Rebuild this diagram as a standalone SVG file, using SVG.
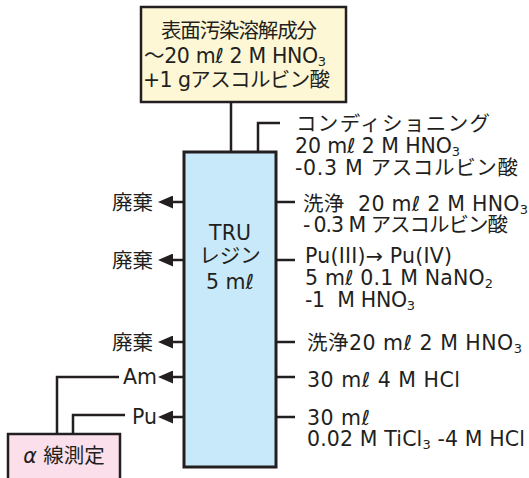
<svg xmlns="http://www.w3.org/2000/svg" width="529" height="478" viewBox="0 0 529 478">
<defs>
<style>
text{font-family:'DejaVu Sans','Noto Sans CJK JP',sans-serif;font-size:20.5px;fill:#231f20}
.c{text-anchor:middle}
.e{text-anchor:end}
.ln{stroke:#231f20;stroke-width:2.5;fill:none}
.sub{font-size:13px}
</style>
<marker id="ah" viewBox="0 0 15 13" refX="0" refY="6.5" markerWidth="15" markerHeight="13" markerUnits="userSpaceOnUse" orient="auto">
<path d="M0,0 L15,6.5 L0,13 z" fill="#231f20"/>
</marker>
</defs>
<rect width="529" height="478" fill="#ffffff"/>
<g id="connectors">
<line class="ln" x1="231" y1="102" x2="231" y2="152"/>
<polyline class="ln" points="258,152 258,123 280,123"/>
<line class="ln" x1="276" y1="202" x2="295" y2="202"/>
<line class="ln" x1="276" y1="260" x2="295" y2="260"/>
<line class="ln" x1="276" y1="342" x2="295" y2="342"/>
<line class="ln" x1="276" y1="377" x2="295" y2="377"/>
<line class="ln" x1="276" y1="417" x2="295" y2="417"/>
<line class="ln" x1="184" y1="202" x2="173" y2="202" marker-end="url(#ah)"/>
<line class="ln" x1="184" y1="260" x2="173" y2="260" marker-end="url(#ah)"/>
<line class="ln" x1="184" y1="342" x2="173" y2="342" marker-end="url(#ah)"/>
<line class="ln" x1="184" y1="377" x2="173" y2="377" marker-end="url(#ah)"/>
<line class="ln" x1="184" y1="417" x2="173" y2="417" marker-end="url(#ah)"/>
<polyline class="ln" points="119,377 57,377 57,434"/>
<polyline class="ln" points="125,415 73,415 73,434"/>
</g>
<g id="source">
<rect x="141" y="7" width="205" height="95" fill="#fdf7d6" stroke="#231f20" stroke-width="2.5"/>
<text x="161" y="38" textLength="156" lengthAdjust="spacing">表面汚染溶解成分</text>
<text x="144" y="63" textLength="182" lengthAdjust="spacing">〜20 mℓ 2 M HNO<tspan class="sub" dy="3">3</tspan></text>
<text x="143" y="87" textLength="187" lengthAdjust="spacing">+1 gアスコルビン酸</text>
</g>
<g id="column">
<rect x="184" y="152" width="92" height="315" fill="#c8e9f9" stroke="#231f20" stroke-width="3"/>
<text class="c" x="230" y="240">TRU</text>
<text class="c" x="230" y="263">レジン</text>
<text class="c" x="230" y="289">5 mℓ</text>
</g>
<g id="step-conditioning">
<text x="296" y="131" textLength="194" lengthAdjust="spacing">コンディショニング</text>
<text x="295" y="153" textLength="165" lengthAdjust="spacing">20 mℓ 2 M HNO<tspan class="sub" dy="3">3</tspan></text>
<text x="295" y="175" textLength="223" lengthAdjust="spacing">-0.3 M アスコルビン酸</text>
</g>
<g id="step-wash1">
<text x="303" y="211" textLength="225" lengthAdjust="spacing" xml:space="preserve">洗浄  20 mℓ 2 M HNO<tspan class="sub" dy="3">3</tspan></text>
<text x="303" y="232" textLength="205" lengthAdjust="spacing">-<tspan dx="4">0.3 M アスコルビン酸</tspan></text>
</g>
<g id="step-redox">
<text x="305" y="263" textLength="147" lengthAdjust="spacing">Pu(III)→ Pu(IV)</text>
<text x="305" y="285" textLength="188" lengthAdjust="spacing">5 mℓ 0.1 M NaNO<tspan class="sub" dy="3">2</tspan></text>
<text x="305" y="307" textLength="110" lengthAdjust="spacing" xml:space="preserve">-1  M HNO<tspan class="sub" dy="3">3</tspan></text>
</g>
<g id="step-wash2">
<text x="307" y="350" textLength="215" lengthAdjust="spacing">洗浄20 mℓ 2 M HNO<tspan class="sub" dy="3">3</tspan></text>
</g>
<g id="step-am">
<text x="307" y="387" textLength="153" lengthAdjust="spacing">30 mℓ 4 M HCl</text>
</g>
<g id="step-pu">
<text x="307" y="425" textLength="63" lengthAdjust="spacing">30 mℓ</text>
<text x="307" y="446" textLength="218" lengthAdjust="spacing">0.02 M TiCl<tspan class="sub" dy="3">3</tspan><tspan dy="-3"> -4 M HCl</tspan></text>
</g>
<g id="waste1"><text class="e" x="153" y="210">廃棄</text></g>
<g id="waste2"><text class="e" x="153" y="268">廃棄</text></g>
<g id="waste3"><text class="e" x="153" y="350">廃棄</text></g>
<g id="am"><text class="e" x="157" y="384">Am</text></g>
<g id="pu"><text class="e" x="157" y="424">Pu</text></g>
<g id="alpha">
<rect x="8" y="434" width="112" height="60" fill="#fbdfeb" stroke="#231f20" stroke-width="2.5"/>
<text class="c" x="64" y="463"><tspan font-style="italic">α</tspan> 線測定</text>
</g>
</svg>
